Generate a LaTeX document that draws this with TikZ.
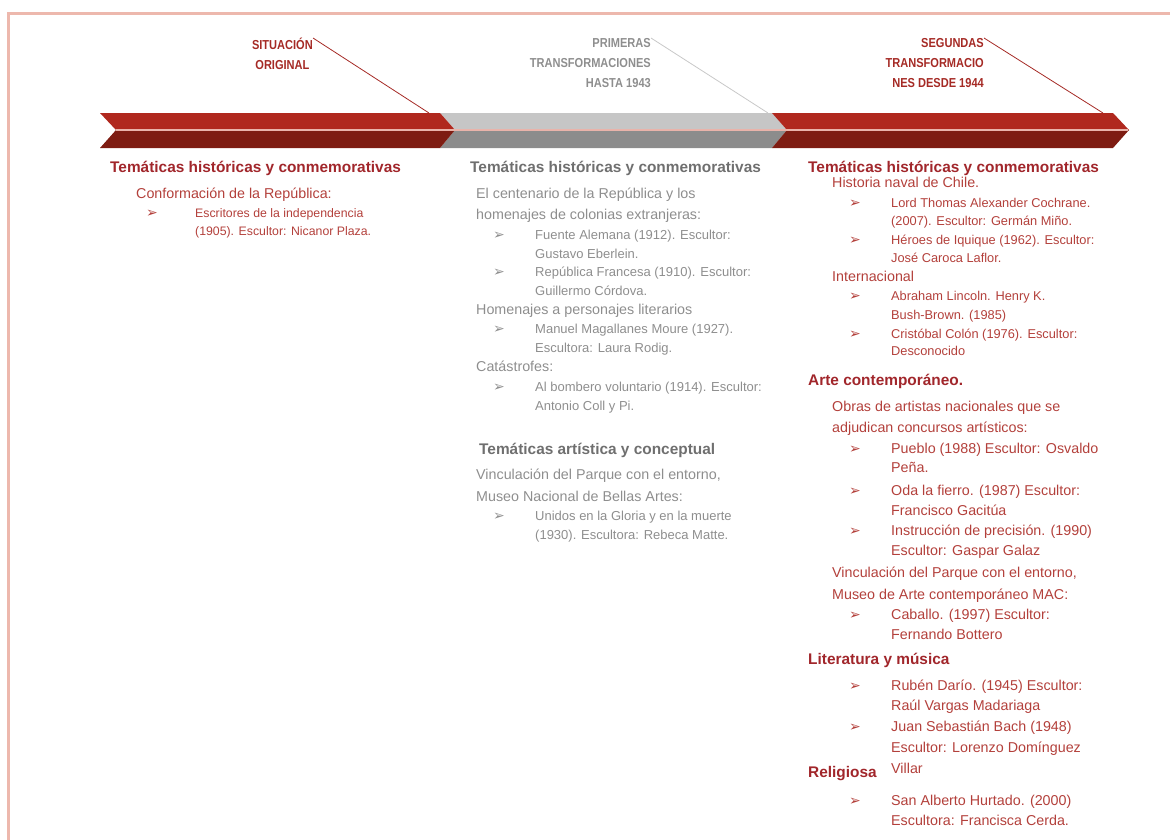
\documentclass[tikz,border=0pt]{standalone}
\usepackage{fontspec}
\setmainfont{Liberation Sans}
\newfontfamily\lblfont[FakeStretch=0.85]{Liberation Sans}
\newfontfamily\dvfont{DejaVu Sans}
\definecolor{redA}{HTML}{B0281E}
\definecolor{redB}{HTML}{7E1C12}
\definecolor{grayA}{HTML}{C6C6C6}
\definecolor{grayB}{HTML}{8C8C8C}
\definecolor{sepc}{HTML}{E9B3AA}
\definecolor{framec}{HTML}{EDB8AD}
\definecolor{redH}{HTML}{A1262B}
\definecolor{redT}{HTML}{B3403B}
\definecolor{grayH}{HTML}{6F6F6F}
\definecolor{grayT}{HTML}{8E8E8E}
\definecolor{lredl}{HTML}{A52A25}
\definecolor{lgrayl}{HTML}{C8C8C8}
\tikzset{
  txt/.style={anchor=west,inner sep=0pt,text height=0.72em,text depth=0.2em},
  lbl/.style={inner sep=0pt,font=\lblfont\bfseries\fontsize{13}{20}\selectfont,align=right},
  hdR/.style={txt,font=\bfseries\fontsize{15.4}{17}\selectfont,text=redH},
  hdG/.style={txt,font=\bfseries\fontsize{15.4}{17}\selectfont,text=grayH},
  bodyR/.style={txt,font=\fontsize{14.3}{16}\selectfont,text=redT},
  bodyG/.style={txt,font=\fontsize{14.3}{16}\selectfont,text=grayT},
  smR/.style={txt,font=\fontsize{12.3}{14}\selectfont,text=redT},
  smG/.style={txt,font=\fontsize{13}{15}\selectfont,text=grayT},
  mdR/.style={txt,font=\fontsize{12.8}{14}\selectfont,text=redT},
  bulR/.style={txt,font=\dvfont\fontsize{14}{15}\selectfont,text=redT},
  bulG/.style={txt,font=\dvfont\fontsize{14}{15}\selectfont,text=grayT},
  pointer/.style={line width=0.8pt},
}
\begin{document}
\begin{tikzpicture}[x=1pt,y=-1pt]
\useasboundingbox (0,0) rectangle (1170,839);
% frame
\draw[framec,line width=3pt] (8,850) -- (8,13) -- (1180,13);
% banner
\fill[grayA] (440,113) -- (772,113) -- (787,130) -- (455,130) -- cycle;
\fill[grayB] (455,130) -- (787,130) -- (772,148) -- (440,148) -- cycle;
\fill[redA] (100,113) -- (440,113) -- (455,130) -- (116,130) -- cycle;
\fill[redB] (116,130) -- (455,130) -- (440,148) -- (100,148) -- cycle;
\fill[redA] (772,113) -- (1113,113) -- (1129,130) -- (787,130) -- cycle;
\fill[redB] (787,130) -- (1129,130) -- (1113,148) -- (772,148) -- cycle;
\draw[sepc,line width=1.6pt] (116,130) -- (1128,130);
% labels
\node[lbl,text=lredl,align=center,anchor=north east] (lab1) at (313,38) {SITUACIÓN\\ORIGINAL};
\node[lbl,text=grayT,anchor=north east] (lab2) at (651,38) {PRIMERAS\\TRANSFORMACIONES\\HASTA 1943};
\node[lbl,text=lredl,anchor=north east] (lab3) at (984,38) {SEGUNDAS\\TRANSFORMACIO\\NES DESDE 1944};
\coordinate (p1) at (429,113);
\coordinate (p2) at (768,113);
\coordinate (p3) at (1103,113);
\draw[pointer,lredl] (lab1.north east) -- (p1);
\draw[pointer,lgrayl] (lab2.north east) -- (p2);
\draw[pointer,lredl] (lab3.north east) -- (p3);
% left column
\node[hdR] (a1) at (110,170) {Temáticas históricas y conmemorativas};
\node[bodyR] (a2) at (136,196) {Conformación de la República:};
\node[bulR] (ab1) at (146,215) {➢};
\node[smR] (a3) at (195,215) {Escritores de la independencia};
\node[smR] (a4) at (195,233) {(1905). Escultor: Nicanor Plaza.};
% middle column
\node[hdG] (b1) at (470,170) {Temáticas históricas y conmemorativas};
\node[bodyG] (b2) at (476,196) {El centenario de la República y los};
\node[bodyG] (b3) at (476,217) {homenajes de colonias extranjeras:};
\node[bulG] (bb1) at (493,237) {➢};
\node[smG] (b4) at (535,237) {Fuente Alemana (1912). Escultor:};
\node[smG] (b5) at (535,256) {Gustavo Eberlein.};
\node[bulG] (bb2) at (493,274) {➢};
\node[smG] (b6) at (535,274) {República Francesa (1910). Escultor:};
\node[smG] (b7) at (535,293) {Guillermo Córdova.};
\node[bodyG] (b8) at (476,312) {Homenajes a personajes literarios};
\node[bulG] (bb3) at (493,331) {➢};
\node[smG] (b9) at (535,331) {Manuel Magallanes Moure (1927).};
\node[smG] (b10) at (535,350) {Escultora: Laura Rodig.};
\node[bodyG] (b11) at (476,369) {Catástrofes:};
\node[bulG] (bb4) at (493,389) {➢};
\node[smG] (b12) at (535,389) {Al bombero voluntario (1914). Escultor:};
\node[smG] (b13) at (535,408) {Antonio Coll y Pi.};
\node[hdG] (b14) at (479,452) {Temáticas artística y conceptual};
\node[bodyG] (b15) at (476,477) {Vinculación del Parque con el entorno,};
\node[bodyG] (b16) at (476,499) {Museo Nacional de Bellas Artes:};
\node[bulG] (bb5) at (493,518) {➢};
\node[smG] (b17) at (535,518) {Unidos en la Gloria y en la muerte};
\node[smG] (b18) at (535,537) {(1930). Escultora: Rebeca Matte.};
% right column
\node[hdR] (c1) at (808,170) {Temáticas históricas y conmemorativas};
\node[bodyR] (c2) at (832,185) {Historia naval de Chile.};
\node[bulR] (cb1) at (849,205) {➢};
\node[mdR] (c3) at (891,205) {Lord Thomas Alexander Cochrane.};
\node[mdR] (c4) at (891,223) {(2007). Escultor: Germán Miño.};
\node[bulR] (cb2) at (849,242) {➢};
\node[mdR] (c5) at (891,242) {Héroes de Iquique (1962). Escultor:};
\node[mdR] (c6) at (891,260) {José Caroca Laflor.};
\node[bodyR] (c7) at (832,279) {Internacional};
\node[bulR] (cb3) at (849,298) {➢};
\node[mdR] (c8) at (891,298) {Abraham Lincoln. Henry K.};
\node[mdR] (c9) at (891,317) {Bush-Brown. (1985)};
\node[bulR] (cb4) at (849,336) {➢};
\node[mdR] (c10) at (891,336) {Cristóbal Colón (1976). Escultor:};
\node[mdR] (c11) at (891,353) {Desconocido};
\node[hdR] (c12) at (808,383) {Arte contemporáneo.};
\node[bodyR] (c13) at (832,409) {Obras de artistas nacionales que se};
\node[bodyR] (c14) at (832,430) {adjudican concursos artísticos:};
\node[bulR] (cb5) at (849,451) {➢};
\node[bodyR] (c15) at (891,451) {Pueblo (1988) Escultor: Osvaldo};
\node[bodyR] (c16) at (891,470) {Peña.};
\node[bulR] (cb6) at (849,493) {➢};
\node[bodyR] (c17) at (891,493) {Oda la fierro. (1987) Escultor:};
\node[bodyR] (c18) at (891,513) {Francisco Gacitúa};
\node[bulR] (cb7) at (849,533) {➢};
\node[bodyR] (c19) at (891,533) {Instrucción de precisión. (1990)};
\node[bodyR] (c20) at (891,553) {Escultor: Gaspar Galaz};
\node[bodyR] (c21) at (832,575) {Vinculación del Parque con el entorno,};
\node[bodyR] (c22) at (832,597) {Museo de Arte contemporáneo MAC:};
\node[bulR] (cb8) at (849,617) {➢};
\node[bodyR] (c23) at (891,617) {Caballo. (1997) Escultor:};
\node[bodyR] (c24) at (891,637) {Fernando Bottero};
\node[hdR] (c25) at (808,662) {Literatura y música};
\node[bulR] (cb9) at (849,688) {➢};
\node[bodyR] (c26) at (891,688) {Rubén Darío. (1945) Escultor:};
\node[bodyR] (c27) at (891,708) {Raúl Vargas Madariaga};
\node[bulR] (cb10) at (849,729) {➢};
\node[bodyR] (c28) at (891,729) {Juan Sebastián Bach (1948)};
\node[bodyR] (c29) at (891,750) {Escultor: Lorenzo Domínguez};
\node[bodyR] (c30) at (891,771) {Villar};
\node[hdR] (c31) at (808,775) {Religiosa};
\node[bulR] (cb11) at (849,803) {➢};
\node[bodyR] (c32) at (891,803) {San Alberto Hurtado. (2000)};
\node[bodyR] (c33) at (891,823) {Escultora: Francisca Cerda.};
\end{tikzpicture}
\end{document}
